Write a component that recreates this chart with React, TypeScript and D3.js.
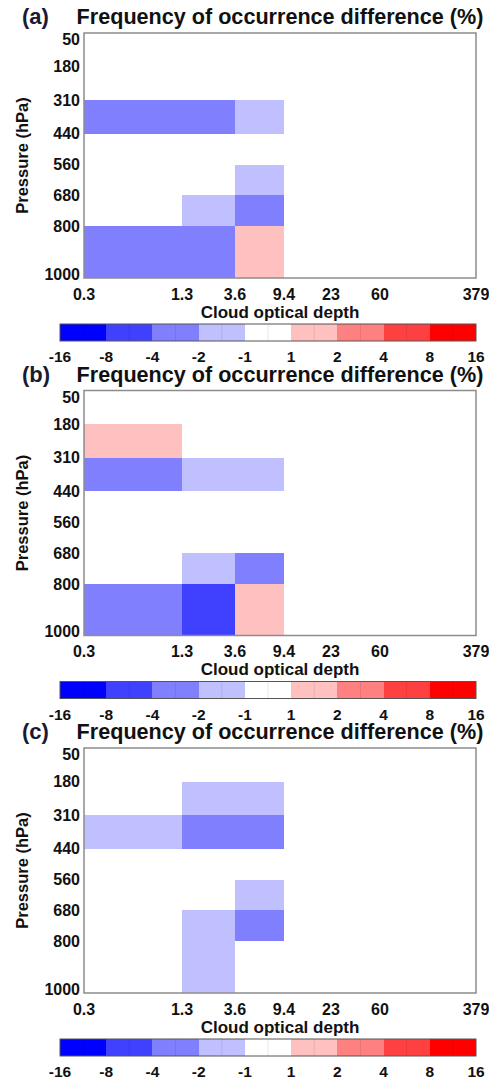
import React from 'react';
import * as d3 from 'd3';

// cloud optical depth bin edges (x) and pressure bin edges (y, hPa)
const tauEdges = [0.3, 1.3, 3.6, 9.4, 23, 60, 379];
const pressureEdges = [50, 180, 310, 440, 560, 680, 800, 1000];

// colour bar boundaries (%) and the colour of each interval
const colorBounds = [-16, -8, -4, -2, -1, 1, 2, 4, 8, 16];
const binColors = ['#0000ff', '#4040ff', '#8080ff', '#c0c0ff', '#ffffff', '#ffc0c0', '#ff8080', '#ff4040', '#ff0000'];

// frequency of occurrence difference (%), rows = pressure bins (top->bottom), cols = tau bins
const diffA = [
  [0, 0, 0, 0, 0, 0],
  [0, 0, 0, 0, 0, 0],
  [-3, -3, -1.5, 0, 0, 0],
  [0, 0, 0, 0, 0, 0],
  [0, 0, -1.5, 0, 0, 0],
  [0, -1.5, -3, 0, 0, 0],
  [-3, -3, 1.5, 0, 0, 0],
];
const diffB = [
  [0, 0, 0, 0, 0, 0],
  [1.5, 0, 0, 0, 0, 0],
  [-3, -1.5, -1.5, 0, 0, 0],
  [0, 0, 0, 0, 0, 0],
  [0, 0, 0, 0, 0, 0],
  [0, -1.5, -3, 0, 0, 0],
  [-3, -5, 1.5, 0, 0, 0],
];
const diffC = [
  [0, 0, 0, 0, 0, 0],
  [0, -1.5, -1.5, 0, 0, 0],
  [-1.5, -3, -3, 0, 0, 0],
  [0, 0, 0, 0, 0, 0],
  [0, 0, -1.5, 0, 0, 0],
  [0, -1.5, -3, 0, 0, 0],
  [0, -1.5, 0, 0, 0, 0],
];
const panelLabels = ['(a)', '(b)', '(c)'];
const panels = [diffA, diffB, diffC];

const title = 'Frequency of occurrence difference (%)';
const xTitle = 'Cloud optical depth';
const yTitle = 'Pressure (hPa)';

const font = 'Liberation Sans, Arial, Helvetica, sans-serif';
const left = 84;
const right = 476;
const plotH = 245;
const cbLeft = 60;
const cbRight = 476;
const frameColor = '#8c8c8c';

// tau axis isn't log: the outer bins are drawn about twice as wide
const tauFrac = [0, 0.25, 0.385, 0.51, 0.63, 0.755, 1];
const x = d3.scaleLinear().domain(tauEdges).range(tauFrac.map((f) => left + f * (right - left)));
const y = d3.scaleLinear().domain([50, 1000]).range([0, plotH]);
const color = d3.scaleThreshold<number, string>().domain(colorBounds.slice(1, -1)).range(binColors);
const cbX = d3.scalePoint<string>().domain(colorBounds.map(String)).range([cbLeft, cbRight]);

const Panel = ({ data, label, top }: { data: number[][]; label: string; top: number }) => {
  const cells: { x0: number; x1: number; y0: number; y1: number; v: number }[] = [];
  data.forEach((row, i) =>
    row.forEach((v, j) => {
      cells.push({ x0: tauEdges[j], x1: tauEdges[j + 1], y0: pressureEdges[i], y1: pressureEdges[i + 1], v });
    })
  );
  const yMid = plotH / 2;
  return (
    <g transform={`translate(0, ${top})`}>
      <text x={22} y={-9} fontSize={22} fill="#1a1a33">{label}</text>
      <text x={280} y={-9} fontSize={21.6} textAnchor="middle" fill="#111">{title}</text>

      {cells.map((c, k) => (
        <rect
          key={k}
          x={x(c.x0)}
          y={y(c.y0)}
          width={x(c.x1) - x(c.x0)}
          height={y(c.y1) - y(c.y0)}
          fill={color(c.v)}
          shapeRendering="crispEdges"
        />
      ))}
      <rect x={left} y={0} width={right - left} height={plotH} fill="none" stroke={frameColor} strokeWidth={1.5} />

      {pressureEdges.map((p, i) => (
        <text
          key={p}
          x={80}
          y={y(p)}
          dy={i === 0 ? '0.75em' : i === pressureEdges.length - 1 ? '0.1em' : '0.35em'}
          fontSize={16}
          textAnchor="end"
          fill="#111"
        >
          {p}
        </text>
      ))}
      <text
        transform={`translate(22, ${yMid}) rotate(-90)`}
        dy="0.35em"
        fontSize={16.5}
        textAnchor="middle"
        fill="#111"
      >
        {yTitle}
      </text>

      {tauEdges.map((t) => (
        <text key={t} x={x(t)} y={plotH + 16} dy="0.35em" fontSize={16} textAnchor="middle" fill="#111">
          {t}
        </text>
      ))}
      <text x={(left + right) / 2} y={plotH + 34} dy="0.35em" fontSize={17} textAnchor="middle" fill="#111">
        {xTitle}
      </text>

      {/* colour bar */}
      <g transform={`translate(0, ${plotH + 46})`}>
        {binColors.map((c, i) => {
          const x0 = cbX(String(colorBounds[i]))!;
          const x1 = cbX(String(colorBounds[i + 1]))!;
          return (
            <g key={i}>
              <rect x={x0} y={0} width={x1 - x0} height={17} fill={c} shapeRendering="crispEdges" />
              <line x1={(x0 + x1) / 2} x2={(x0 + x1) / 2} y1={0} y2={17} stroke="#000" strokeOpacity={0.12} strokeWidth={0.8} />
            </g>
          );
        })}
        <rect x={cbLeft} y={0} width={cbRight - cbLeft} height={17} fill="none" stroke="#555" strokeWidth={1} />
        {colorBounds.map((b) => (
          <text key={b} x={cbX(String(b))} y={33} dy="0.35em" fontSize={15.5} textAnchor="middle" fill="#111">
            {b}
          </text>
        ))}
      </g>
    </g>
  );
}

export default function App() {
  return (
    <svg
      width={489}
      height={1083}
      style={{ position: 'absolute', left: 0, top: 0, background: '#fff' }}
      fontFamily={font}
      fontWeight="bold"
    >
      {panels.map((d, i) => (
        <Panel key={i} data={d} label={panelLabels[i]} top={33 + i * 357.5} />
      ))}
    </svg>
  );
}
